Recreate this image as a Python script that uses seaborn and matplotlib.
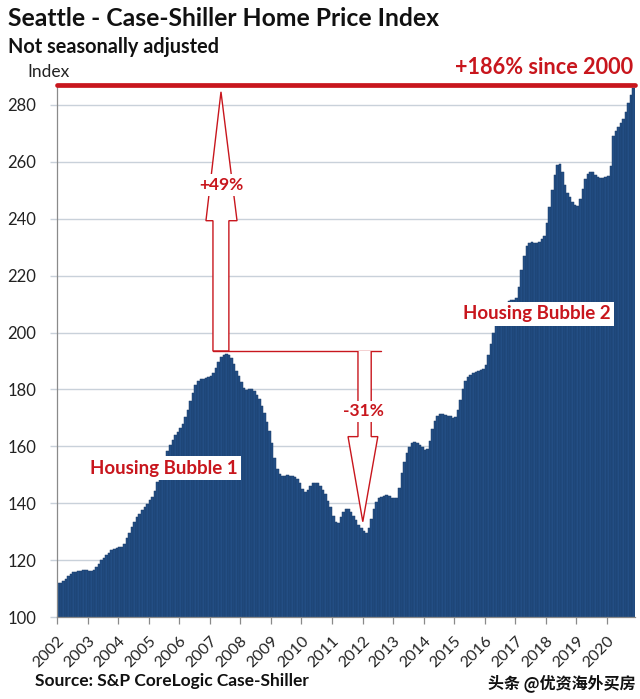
import numpy as np
import pandas as pd
import matplotlib
matplotlib.use("Agg")
import matplotlib.pyplot as plt
import seaborn as sns
from matplotlib.patches import Polygon
from matplotlib.transforms import ScaledTranslation

# ---- data: Seattle Case-Shiller index, monthly, Jan 2002 - Nov 2020 ----
v2002 = [112.0, 112.1, 112.6, 113.4, 114.3, 115.1, 115.7, 115.9, 116.0, 116.1, 116.4, 116.6]
v2003 = [116.2, 116.0, 116.6, 117.6, 118.8, 120.1, 120.9, 121.7, 122.6, 123.5, 123.9, 124.3]
v2004 = [124.6, 124.7, 125.5, 127.6, 129.7, 131.8, 133.5, 135.1, 136.3, 137.6, 138.7, 139.6]
v2005 = [141.0, 142.2, 144.3, 147.4, 150.3, 153.2, 156.0, 158.4, 160.3, 162.1, 163.8, 164.9]
v2006 = [166.5, 168.0, 170.2, 172.8, 175.8, 178.8, 181.4, 183.0, 183.5, 183.8, 184.0, 184.2]
v2007 = [184.6, 185.8, 187.6, 189.8, 191.5, 192.2, 192.3, 192.0, 191.0, 188.8, 186.5, 184.6]
v2008 = [182.5, 180.6, 179.8, 180.2, 180.0, 179.3, 178.0, 176.5, 174.3, 171.8, 168.5, 165.5]
v2009 = [161.0, 156.0, 152.0, 150.2, 149.6, 149.6, 149.8, 149.7, 149.5, 149.2, 148.5, 147.2]
v2010 = [145.0, 143.8, 144.5, 146.0, 147.0, 147.2, 147.0, 146.2, 144.8, 143.4, 140.8, 138.5]
v2011 = [135.6, 133.4, 133.2, 135.0, 137.0, 138.0, 137.8, 136.8, 135.5, 134.0, 132.5, 131.4]
v2012 = [130.4, 129.5, 131.4, 134.5, 138.0, 140.5, 141.8, 142.3, 142.7, 142.9, 142.6, 142.0]
v2013 = [141.7, 142.0, 145.5, 150.5, 154.5, 157.5, 159.8, 161.0, 161.5, 161.2, 160.5, 159.7]
v2014 = [158.8, 159.0, 162.0, 166.0, 169.0, 170.8, 171.4, 171.3, 170.9, 170.8, 170.5, 169.8]
v2015 = [170.2, 172.8, 176.3, 180.0, 182.8, 184.3, 185.0, 185.6, 186.0, 186.4, 186.8, 187.0]
v2016 = [188.5, 192.0, 196.0, 200.0, 203.5, 206.5, 208.3, 209.5, 210.5, 211.0, 211.3, 211.5]
v2017 = [212.0, 216.0, 222.0, 227.0, 230.5, 231.5, 231.8, 231.5, 231.3, 231.8, 232.8, 234.0]
v2018 = [238.5, 244.0, 250.0, 255.5, 259.0, 259.2, 256.5, 252.0, 249.0, 247.5, 246.0, 244.8]
v2019 = [244.5, 247.0, 250.5, 254.0, 255.8, 256.5, 256.3, 255.5, 254.8, 254.4, 254.3, 254.5]
v2020 = [255.0, 258.5, 269.0, 271.0, 272.3, 273.5, 275.0, 277.5, 280.5, 283.5, 286.0]

year_labels = [str(y) for y in range(2002, 2021)]
y_ticks = [100, 120, 140, 160, 180, 200, 220, 240, 260, 280]

values = (v2002 + v2003 + v2004 + v2005 + v2006 + v2007 + v2008 + v2009 + v2010
          + v2011 + v2012 + v2013 + v2014 + v2015 + v2016 + v2017 + v2018 + v2019 + v2020)
df = pd.DataFrame({"month": np.arange(len(values)), "index": values})

RED = "#c8161d"
BAR = "#234e84"
EDGE = "#1a3d69"
GRID = "#c9d1da"

sns.set_style("white")
plt.rcParams["font.family"] = ["Lato", "DejaVu Sans"]

W, H = 640, 699
fig = plt.figure(figsize=(W / 100, H / 100), dpi=100)
fig.patch.set_facecolor("white")
ax = fig.add_axes([57 / W, 1 - 617 / H, (635 - 57) / W, (617 - 85) / H])

sns.barplot(data=df, x="month", y="index", color=BAR, width=1.0, saturation=1,
            edgecolor=EDGE, linewidth=0.35, ax=ax, zorder=2)

ax.set_ylim(100, 287)
ax.set_xlim(-0.5, len(values) - 0.5)
ax.set_yticks(y_ticks)
ax.set_yticklabels([str(t) for t in y_ticks], fontsize=12, color="#222")
ax.set_xticks([12 * k - 0.5 for k in range(len(year_labels))])
ax.set_xticklabels(year_labels, rotation=45, ha="right", rotation_mode="anchor",
                   fontsize=11.5, color="#222")
shift = ScaledTranslation(2 / 100, 0, fig.dpi_scale_trans)
for lbl in ax.get_xticklabels():
    lbl.set_transform(lbl.get_transform() + shift)
ax.set_xlabel("")
ax.set_ylabel("")
ax.yaxis.grid(True, color=GRID, lw=1)
ax.xaxis.grid(False)
ax.set_axisbelow(True)
for s in ["top", "right"]:
    ax.spines[s].set_visible(False)
for s in ["left", "bottom"]:
    ax.spines[s].set_color("#8a8a8a")
    ax.spines[s].set_linewidth(0.9)
ax.tick_params(axis="x", length=5, color="#8a8a8a", width=0.9, pad=7, bottom=True)
ax.tick_params(axis="y", length=5, color=GRID, width=1, pad=10, left=True)

# red top line
ax.axhline(287, color=RED, lw=3.4, clip_on=False, zorder=5)

# up arrow (+49%)
up = [(60.75, 193.5), (60.75, 239.3), (58.0, 239.3), (63.9, 284.6),
      (70.2, 239.3), (67.0, 239.3), (67.0, 193.5)]
ax.add_patch(Polygon(up, closed=True, facecolor="white", edgecolor=RED, lw=1.0, zorder=4))
# bracket line
ax.plot([60.75, 126.7], [193.5, 193.5], color=RED, lw=1.0, zorder=4)
# down arrow (-31%)
down = [(117.7, 193.5), (117.7, 163.4), (113.8, 163.4), (119.6, 133.5),
        (125.5, 163.4), (122.9, 163.4), (122.9, 193.5)]
ax.add_patch(Polygon(down, closed=False, facecolor="white", edgecolor=RED, lw=1.0, zorder=4))

lab = dict(color=RED, fontweight="bold", ha="center", va="center", zorder=6)
ax.text(63.9, 251.9, "+49%", fontsize=12.5,
        bbox=dict(facecolor="white", edgecolor="none", pad=2), **lab)
ax.text(119.8, 172.3, "-31%", fontsize=12.5,
        bbox=dict(facecolor="white", edgecolor="none", pad=2), **lab)
ax.text(41.5, 152.3, "Housing Bubble 1", fontsize=13.5,
        bbox=dict(facecolor="white", edgecolor="none", pad=2.5), **lab)
ax.text(188.0, 206.6, "Housing Bubble 2", fontsize=13.5,
        bbox=dict(facecolor="white", edgecolor="none", pad=2.5), **lab)

# figure texts
def fx(x):
    return x / W

def fy(y):
    return 1 - y / H

fig.text(fx(8), fy(19), "Seattle - Case-Shiller Home Price Index", fontsize=17.8,
         fontweight="bold", va="center", ha="left", color="#111")
fig.text(fx(8), fy(47), "Not seasonally adjusted", fontsize=14.3,
         fontweight="bold", va="center", ha="left", color="#111")
fig.text(fx(27), fy(72), "Index", fontsize=12.5, va="center", ha="left", color="#222")
fig.text(fx(633), fy(68), "+186% since 2000", fontsize=15.6, fontweight="bold",
         va="center", ha="right", color=RED)
fig.text(fx(35), fy(681), "Source: S&P CoreLogic Case-Shiller", fontsize=12.5,
         fontweight="bold", va="center", ha="left", color="#111")
fig.text(fx(636), fy(683), "头条 @优资海外买房", fontsize=11.5, va="center", ha="right",
         color="#111", fontweight="bold", family=["Noto Sans CJK SC", "DejaVu Sans"])

fig.savefig("out.png", dpi=100, facecolor="white")
